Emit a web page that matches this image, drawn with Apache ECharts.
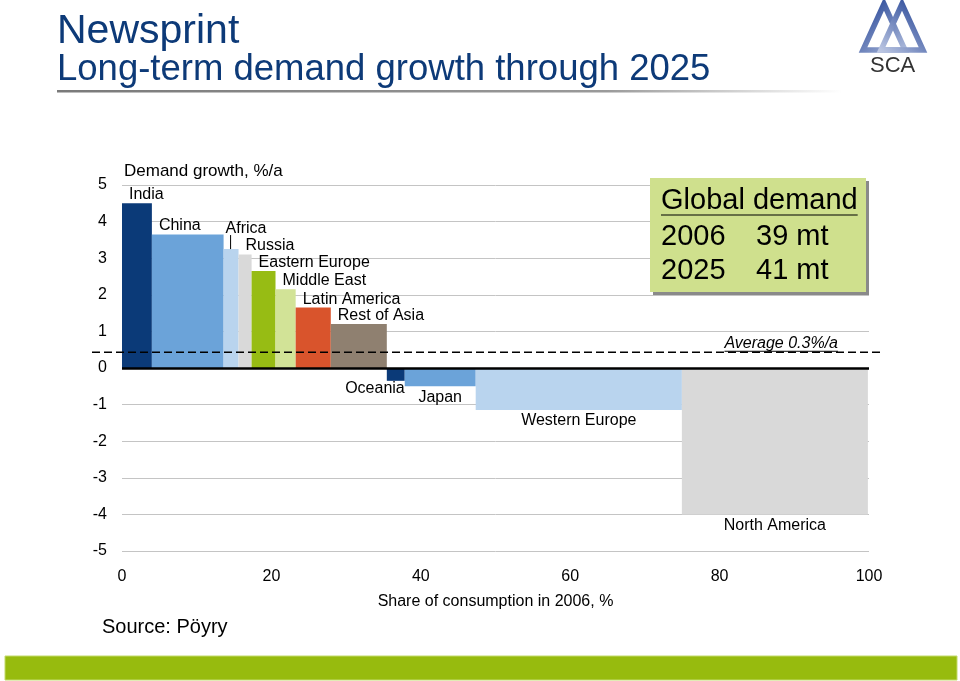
<!DOCTYPE html>
<html><head><meta charset="utf-8">
<script src="https://cdn.jsdelivr.net/npm/echarts@6/dist/echarts.min.js"></script>
<style>html,body{margin:0;padding:0;background:#fff}#c{width:960px;height:681px}</style>
</head><body><div id="c"></div>
<script>
// ---- data ----
const regions = ['India','China','Africa','Russia','Eastern Europe','Middle East','Latin America','Rest of Asia','Oceania','Japan','Western Europe','North America'];
const shares  = [4.0, 9.6, 2.0, 1.75, 3.2, 2.7, 4.7, 7.5, 2.4, 9.5, 27.6, 24.9];   // share of consumption 2006, %
const growth  = [4.5, 3.65, 3.25, 3.1, 2.65, 2.15, 1.65, 1.2, -0.35, -0.5, -1.15, -4.0]; // demand growth %/a
const averageLine = 0.43;
const averageLabel = 'Average 0.3%/a';
const xTicks = [0, 20, 40, 60, 80, 100];
const yTicks = [-5, -4, -3, -2, -1, 0, 1, 2, 3, 4, 5];
const globalDemandTitle = 'Global demand';
const globalDemandYears = ['2006', '2025'];
const globalDemandValues = ['39 mt', '41 mt'];

// ---- styles ----
const colors = ['#0b3a78','#6ba3d9','#b9d4ee','#d9d9d9','#97bc14','#d2e397','#d9542c','#8f8070','#0b3a78','#6ba3d9','#b9d4ee','#d9d9d9'];
const FONT = "'Liberation Sans', Arial, sans-serif";
const labelSpecial = { 'Africa': 'leader', 'Oceania': 'right' };

const starts = []; let acc = 0;
shares.forEach(s => { starts.push(acc); acc += s; });
const barData = regions.map((r, i) => [starts[i], starts[i] + shares[i], growth[i], i]);

function renderItem(params, api) {
  const s = api.value(0), e = api.value(1), v = api.value(2), i = api.value(3);
  const p0 = api.coord([s, v]);
  const p1 = api.coord([e, 0]);
  const x0 = p0[0], x1 = p1[0], yv = p0[1], y0 = p1[1];
  const name = regions[i];
  const children = [{
    type: 'rect',
    shape: { x: x0, y: Math.min(yv, y0), width: x1 - x0, height: Math.abs(y0 - yv) },
    style: { fill: colors[i] }
  }];
  let tx, ty, align, vAlign;
  const sp = labelSpecial[name];
  if (v >= 0) {
    align = 'left'; vAlign = 'bottom';
    tx = x0 + 7; ty = yv - 0.5;
    if (sp === 'leader') {
      tx = x0 + 2; ty = yv - 12;
      children.push({ type: 'line', shape: { x1: x0 + 7, y1: ty - 2, x2: x0 + 7, y2: yv }, style: { stroke: '#000', lineWidth: 1 } });
    }
  } else {
    align = 'center'; vAlign = 'top';
    tx = (x0 + x1) / 2; ty = yv + 3;
    if (sp === 'right') { align = 'right'; tx = x1; ty = yv; }
  }
  children.push({
    type: 'text',
    style: { text: name, x: tx, y: ty, align: align, verticalAlign: vAlign, fill: '#000', font: '16px ' + FONT }
  });
  return { type: 'group', children: children };
}

const chart = echarts.init(document.getElementById('c'));
chart.setOption({
  animation: false,
  backgroundColor: '#fff',
  grid: { left: 122, right: 91, top: 185, bottom: 130 },
  xAxis: {
    type: 'value', min: xTicks[0], max: xTicks[xTicks.length - 1], interval: xTicks[1] - xTicks[0],
    axisLine: { show: false }, axisTick: { show: false }, splitLine: { show: false },
    axisLabel: { color: '#000', fontSize: 16, fontFamily: FONT, margin: 18 },
    name: 'Share of consumption in 2006, %', nameLocation: 'middle', nameGap: 43,
    nameTextStyle: { color: '#000', fontSize: 16, fontFamily: FONT }
  },
  yAxis: {
    type: 'value', min: yTicks[0], max: yTicks[yTicks.length - 1], interval: yTicks[1] - yTicks[0],
    axisLine: { show: false }, axisTick: { show: false },
    splitLine: { show: true, lineStyle: { color: '#c4c4c4', width: 1 } },
    axisLabel: { color: '#000', fontSize: 16, fontFamily: FONT, margin: 15, verticalAlign: 'middle', padding: [6, 0, 0, 0] }
  },
  series: [{
    type: 'custom', renderItem: renderItem, data: barData, encode: { x: [0, 1], y: 2 }, clip: false,
    markLine: {
      silent: true, symbol: 'none', label: { show: false },
      lineStyle: { color: '#000', width: 2.5, type: 'solid' },
      data: [{ yAxis: 0 }]
    }
  }]
});

// measure helper
const mctx = document.createElement('canvas').getContext('2d');
function tw(text, font) { mctx.font = font; return mctx.measureText(text).width; }

const pL = chart.convertToPixel({ gridIndex: 0 }, [xTicks[0], averageLine]);
const pR = chart.convertToPixel({ gridIndex: 0 }, [xTicks[xTicks.length - 1], averageLine]);
const pTop = chart.convertToPixel({ gridIndex: 0 }, [xTicks[0], yTicks[yTicks.length - 1]]);

const avgFont = 'italic 16px ' + FONT;
const avgW = tw(averageLabel, avgFont);
const avgRight = pR[0] - 31;

const gdFont = '29px ' + FONT;
const gdW = tw(globalDemandTitle, gdFont);
const boxX = 650, boxY = 178, boxW = 216, boxH = 114;

chart.setOption({
  graphic: [
    // title
    { type: 'text', left: 57, top: 11, style: { text: 'Newsprint', font: '41px ' + FONT, fill: '#0d3a78' } },
    { type: 'text', left: 57, top: 51, style: { text: 'Long-term demand growth through 2025', font: '36.5px ' + FONT, fill: '#0d3a78' } },
    { type: 'rect', shape: { x: 57, y: 90, width: 785, height: 2.5 },
      style: { fill: new echarts.graphic.LinearGradient(0, 0, 1, 0, [{ offset: 0, color: '#7a7a7a' }, { offset: 0.7, color: '#9a9a9a' }, { offset: 1, color: '#ffffff' }]) } },
    // logo
    { type: 'polygon', shape: { points: [[884, 4], [863, 50], [905, 50]] },
      style: { fill: 'none', stroke: new echarts.graphic.LinearGradient(0, 0, 1, 1, [{ offset: 0, color: '#1b3c91' }, { offset: 1, color: '#b6c2e0' }]), lineWidth: 5.5 } },
    { type: 'polygon', shape: { points: [[902, 4], [881, 50], [923, 50]] },
      style: { fill: 'none', stroke: new echarts.graphic.LinearGradient(1, 0, 0, 1, [{ offset: 0, color: '#1b3c91' }, { offset: 1, color: '#c2cce6' }]), lineWidth: 5.5 } },
    { type: 'text', left: 870, top: 55, style: { text: 'SCA', font: '22px ' + FONT, fill: '#333' } },
    // axis title
    { type: 'text', left: pTop[0] + 2, top: pTop[1] - 22, style: { text: 'Demand growth, %/a', font: '17px ' + FONT, fill: '#000' } },
    // average dashed line
    { type: 'line', shape: { x1: pL[0] - 30, y1: pL[1], x2: pR[0] + 12, y2: pR[1] },
      style: { stroke: '#000', lineWidth: 1.5, lineDash: [8, 4] }, z: 10 },
    { type: 'text', x: avgRight, y: pR[1] - 1, style: { text: averageLabel, font: avgFont, fill: '#000', align: 'right', verticalAlign: 'bottom' }, z: 10 },
    { type: 'line', shape: { x1: avgRight - avgW, y1: pR[1] - 1, x2: avgRight, y2: pR[1] - 1 }, style: { stroke: '#000', lineWidth: 1 }, z: 10 },
    // global demand box
    { type: 'rect', shape: { x: boxX + 3, y: boxY + 3, width: boxW, height: boxH }, style: { fill: '#8a8a8a' }, z: 20 },
    { type: 'rect', shape: { x: boxX, y: boxY, width: boxW, height: boxH }, style: { fill: '#cfe08d' }, z: 21 },
    { type: 'text', x: boxX + 11, y: boxY + 23, style: { text: globalDemandTitle, font: gdFont, fill: '#000', verticalAlign: 'middle' }, z: 22 },
    { type: 'line', shape: { x1: boxX + 11, y1: boxY + 37, x2: boxX + 11 + gdW, y2: boxY + 37 }, style: { stroke: '#000', lineWidth: 1.2 }, z: 22 },
    { type: 'text', x: boxX + 11, y: boxY + 59, style: { text: globalDemandYears[0], font: gdFont, fill: '#000', verticalAlign: 'middle' }, z: 22 },
    { type: 'text', x: boxX + 106, y: boxY + 59, style: { text: globalDemandValues[0], font: gdFont, fill: '#000', verticalAlign: 'middle' }, z: 22 },
    { type: 'text', x: boxX + 11, y: boxY + 93, style: { text: globalDemandYears[1], font: gdFont, fill: '#000', verticalAlign: 'middle' }, z: 22 },
    { type: 'text', x: boxX + 106, y: boxY + 93, style: { text: globalDemandValues[1], font: gdFont, fill: '#000', verticalAlign: 'middle' }, z: 22 },
    // source
    { type: 'text', left: 102, top: 617, style: { text: 'Source: Pöyry', font: '20px ' + FONT, fill: '#000' } },
    // footer bar
    { type: 'rect', shape: { x: 5, y: 656, width: 952, height: 24 }, style: { fill: '#97bb0e', stroke: '#c3da6a', lineWidth: 1 } }
  ]
});
</script>
</body></html>
